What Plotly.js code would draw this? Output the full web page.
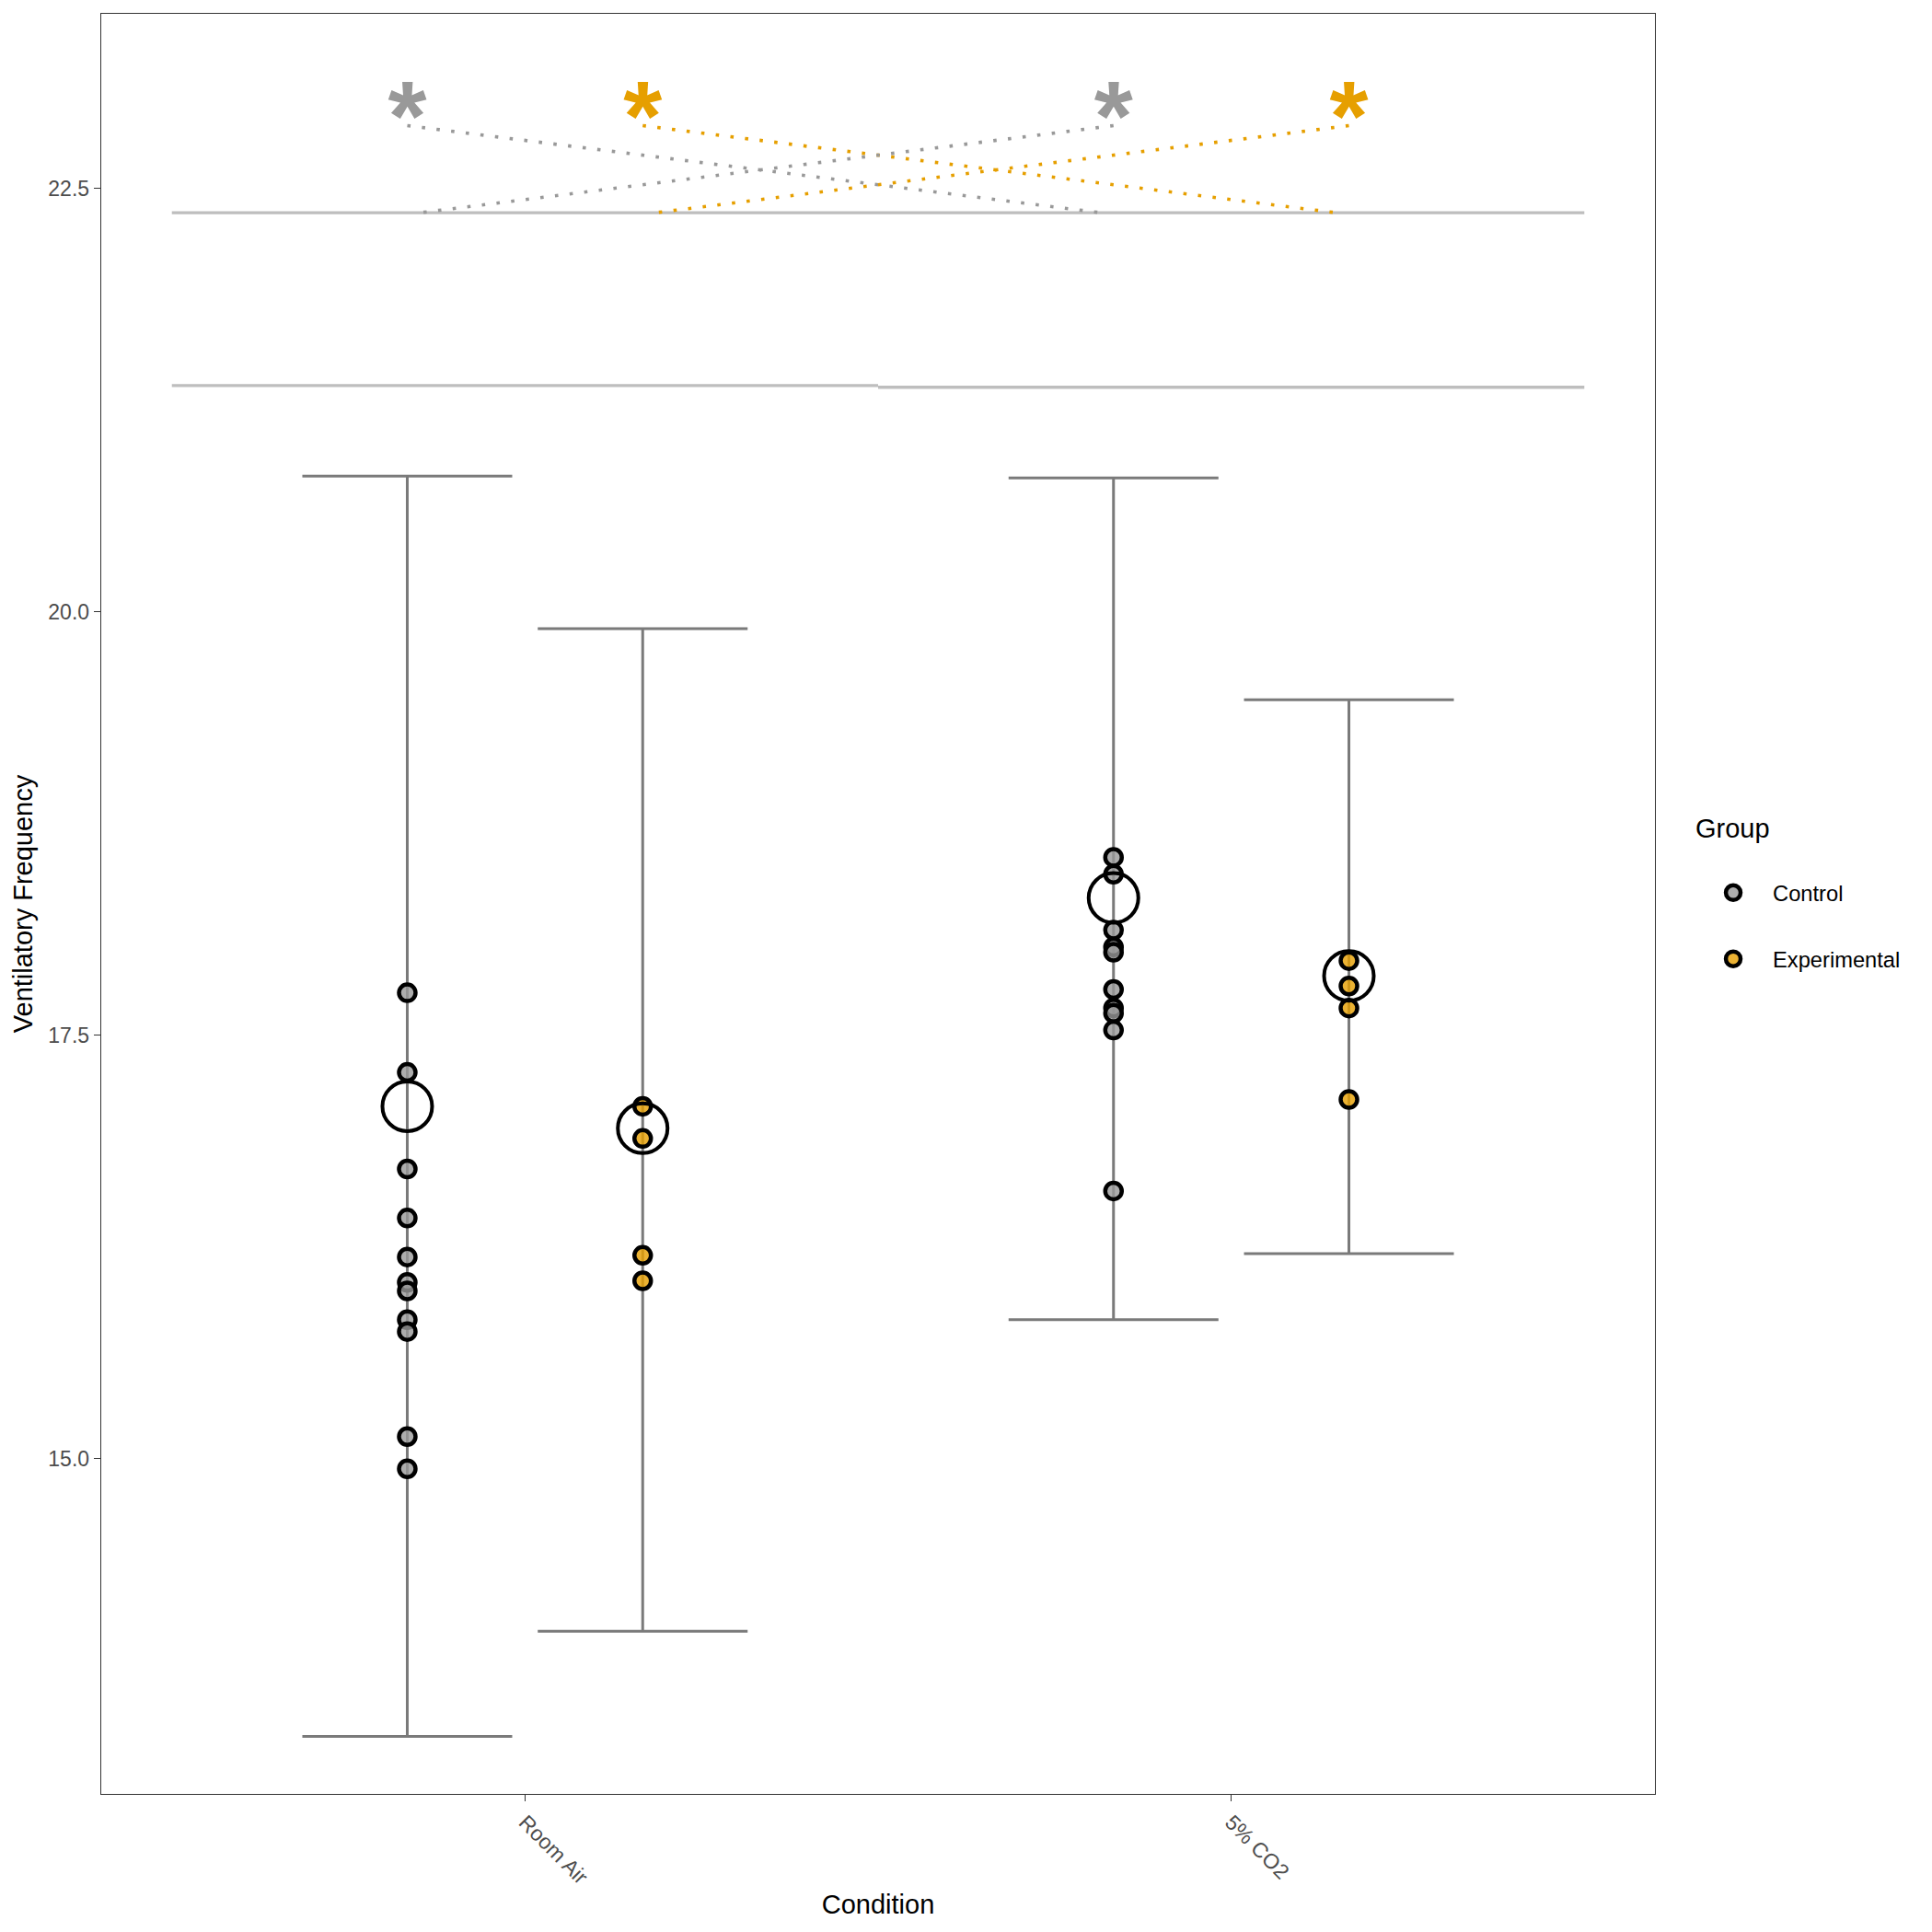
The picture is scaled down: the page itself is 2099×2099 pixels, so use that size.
<!DOCTYPE html>
<html>
<head>
<meta charset="utf-8">
<script src="https://cdn.plot.ly/plotly-3.0.1.min.js"></script>
<style>html,body{margin:0;padding:0;background:#fff;}</style>
</head>
<body>
<div id="chart" style="width:2099px;height:2099px;"></div>
<script>
// ---- data ----
const categories = ['Room Air', '5% CO2'];
const groups = ['Control', 'Experimental'];
const groupColors = ['#999999', '#E69F00'];

// individual observations
const roomAirControl = [17.75, 17.28, 16.71, 16.42, 16.19, 16.04, 15.99, 15.82, 15.75, 15.13, 14.94];
const roomAirExperimental = [17.08, 16.89, 16.20, 16.05];
const co2Control = [18.55, 18.45, 18.12, 18.02, 17.99, 17.77, 17.66, 17.63, 17.53, 16.58];
const co2Experimental = [17.94, 17.79, 17.66, 17.12];

// estimated means and intervals, order: [Room Air, 5% CO2]
const meanControl = [17.08, 18.31];
const meanExperimental = [16.95, 17.85];
const lowControl = [13.36, 15.82];
const lowExperimental = [13.98, 16.21];
const highControl = [20.80, 20.79];
const highExperimental = [19.90, 19.48];

// significance annotation levels
const starLevel = 22.87;
const linkTop = 22.87;
const bracketLevels = [22.355, 21.335, 21.325];

// ---- helpers ----
const dodge = 1 / 3;
const catPos = categories.map((c, i) => i + 1);
const offs = [-dodge / 2, dodge / 2];
const xOf = (ci, gi) => catPos[ci] + offs[gi];
const fontFam = '"Liberation Sans", Arial, sans-serif';

const traces = [];

// bracket lines
traces.push({x: [0.5, 2.5], y: [bracketLevels[0], bracketLevels[0]], mode: 'lines',
  line: {color: '#BEBEBE', width: 3.3}, showlegend: false, hoverinfo: 'skip'});
traces.push({x: [0.5, 1.5], y: [bracketLevels[1], bracketLevels[1]], mode: 'lines',
  line: {color: '#BEBEBE', width: 3.3}, showlegend: false, hoverinfo: 'skip'});
traces.push({x: [1.5, 2.5], y: [bracketLevels[2], bracketLevels[2]], mode: 'lines',
  line: {color: '#BEBEBE', width: 3.3}, showlegend: false, hoverinfo: 'skip'});

// dotted links: each group's star links to the same group in the other condition
const nudge = 0.017;
[[0, 1], [1, 0]].forEach(([from, to]) => {
  groups.forEach((g, gi) => {
    const x0 = xOf(from, gi), x1 = xOf(to, gi);
    const x1n = x1 + (x1 > x0 ? -nudge : nudge);
    traces.push({x: [x0, x1n], y: [linkTop, bracketLevels[0]], mode: 'lines',
      line: {color: groupColors[gi], width: 3.6, dash: '3.6px,12.4px'},
      showlegend: false, hoverinfo: 'skip'});
  });
});

// stars
const starX = [], starC = [];
categories.forEach((c, ci) => groups.forEach((g, gi) => { starX.push(xOf(ci, gi)); starC.push(groupColors[gi]); }));
traces.push({x: starX, y: starX.map(() => starLevel), mode: 'text', text: starX.map(() => '<b>*</b>'),
  textposition: 'middle center', textfont: {family: fontFam, size: 108, color: starC},
  showlegend: false, hoverinfo: 'skip'});

// error bars
const ebX = [xOf(0,0), xOf(0,1), xOf(1,0), xOf(1,1)];
const ebMean = [meanControl[0], meanExperimental[0], meanControl[1], meanExperimental[1]];
const ebLow = [lowControl[0], lowExperimental[0], lowControl[1], lowExperimental[1]];
const ebHigh = [highControl[0], highExperimental[0], highControl[1], highExperimental[1]];
traces.push({x: ebX, y: ebMean, mode: 'markers',
  marker: {size: 1, color: 'rgba(0,0,0,0)'},
  error_y: {type: 'data', symmetric: false,
    array: ebHigh.map((h, i) => h - ebMean[i]),
    arrayminus: ebLow.map((l, i) => ebMean[i] - l),
    width: 114, thickness: 3, color: '#7A7A7A'},
  showlegend: false, hoverinfo: 'skip'});

// points
const ptsControlX = roomAirControl.map(() => xOf(0, 0)).concat(co2Control.map(() => xOf(1, 0)));
const ptsControlY = roomAirControl.concat(co2Control);
const ptsExpX = roomAirExperimental.map(() => xOf(0, 1)).concat(co2Experimental.map(() => xOf(1, 1)));
const ptsExpY = roomAirExperimental.concat(co2Experimental);
traces.push({x: ptsControlX, y: ptsControlY, mode: 'markers', name: groups[0], legendgroup: 'a',
  marker: {size: 18, color: 'rgba(153,153,153,0.8)', line: {color: '#000', width: 4.5}}});
traces.push({x: ptsExpX, y: ptsExpY, mode: 'markers', name: groups[1], legendgroup: 'b',
  marker: {size: 18, color: 'rgba(230,159,0,0.8)', line: {color: '#000', width: 4.5}}});

// means
traces.push({x: ebX, y: ebMean, mode: 'markers',
  marker: {size: 54, color: 'rgba(0,0,0,0)', line: {color: '#000', width: 4}},
  showlegend: false, hoverinfo: 'skip'});

const layout = {
  width: 2099, height: 2099,
  paper_bgcolor: '#fff', plot_bgcolor: '#fff',
  font: {family: fontFam, color: '#000'},
  margin: {l: 110, r: 301, t: 15, b: 150, pad: 0},
  showlegend: true,
  xaxis: {
    range: [0.4, 2.6], tickvals: catPos, ticktext: categories, tickangle: 45,
    ticks: 'outside', ticklen: 7, tickwidth: 1.3, tickcolor: '#333333',
    tickfont: {size: 23, color: '#4D4D4D', family: fontFam},
    showgrid: false, zeroline: false, showline: true, mirror: true,
    linecolor: '#333333', linewidth: 1.3,
    title: {text: 'Condition', font: {size: 29, color: '#000', family: fontFam}, standoff: 7}
  },
  yaxis: {
    range: [13.02, 23.53], tickvals: [15, 17.5, 20, 22.5], ticktext: ['15.0', '17.5', '20.0', '22.5'],
    ticks: 'outside', ticklen: 7, tickwidth: 1.3, tickcolor: '#333333',
    tickfont: {size: 23, color: '#4D4D4D', family: fontFam},
    showgrid: false, zeroline: false, showline: true, mirror: true,
    linecolor: '#333333', linewidth: 1.3,
    title: {text: 'Ventilatory Frequency', font: {size: 29, color: '#000', family: fontFam}, standoff: 8}
  },
  legend: {
    x: 1.0249, xanchor: 'left', y: 0.5566, yanchor: 'top',
    title: {text: 'Group<br> ', font: {size: 29, color: '#000', family: fontFam}},
    font: {size: 23.7, color: '#000', family: fontFam},
    tracegroupgap: 38, itemwidth: 76, bgcolor: 'rgba(0,0,0,0)'
  }
};

Plotly.newPlot('chart', traces, layout, {staticPlot: true, displayModeBar: false});
</script>
</body>
</html>
